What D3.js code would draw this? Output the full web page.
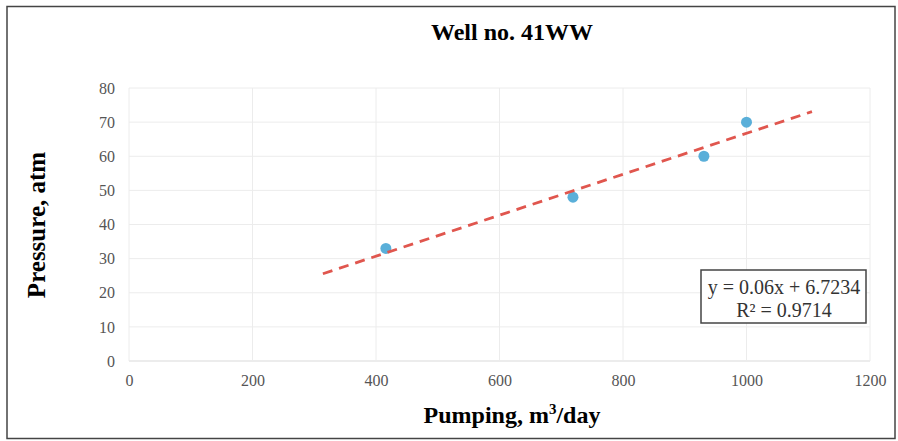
<!DOCTYPE html>
<html><head><meta charset="utf-8">
<script src="https://cdn.jsdelivr.net/npm/d3@7"></script>
<style>body{margin:0;background:#fff}svg{display:block}</style>
</head><body>
<script>
const pumping = [416, 719, 931, 1000];
const pressure = [33, 48, 60, 70];
const xTicks = [0, 200, 400, 600, 800, 1000, 1200];
const yTicks = [0, 10, 20, 30, 40, 50, 60, 70, 80];
const slope = 0.06, intercept = 6.7234, r2 = 0.9714;
const trendRange = [314, 1106];

const W = 898, H = 441;
const svg = d3.select("body").append("svg").attr("width", W).attr("height", H);
svg.append("rect").attr("x", 7).attr("y", 6.5).attr("width", 888).attr("height", 432)
  .attr("fill", "#fff").attr("stroke", "#444").attr("stroke-width", 1.5);

const x = d3.scaleLinear().domain([0, 1200]).range([129, 870]);
const y = d3.scaleLinear().domain([0, 80]).range([361, 88]);
const serif = "'Liberation Serif','Times New Roman',serif";

const g = svg.append("g");
g.selectAll(".hg").data(yTicks).join("line")
  .attr("x1", x(0)).attr("x2", x(1200)).attr("y1", d => y(d)).attr("y2", d => y(d))
  .attr("stroke", d => d === 0 ? "#d9d9d9" : "#ececec").attr("stroke-width", 1);
g.selectAll(".vg").data(xTicks).join("line")
  .attr("y1", y(0)).attr("y2", y(80)).attr("x1", d => x(d)).attr("x2", d => x(d))
  .attr("stroke", "#ececec").attr("stroke-width", 1);

const xa = svg.append("g").attr("transform", `translate(0,${y(0)})`)
  .call(d3.axisBottom(x).tickValues(xTicks).tickFormat(d3.format("d")).tickSize(0).tickPadding(14));
const ya = svg.append("g").attr("transform", `translate(${x(0)},0)`)
  .call(d3.axisLeft(y).tickValues(yTicks).tickFormat(d3.format("d")).tickSize(0).tickPadding(14));
[xa, ya].forEach(a => {
  a.attr("font-family", serif).attr("font-size", 16);
  a.select(".domain").remove();
  a.selectAll("text").attr("fill", "#555");
});

svg.append("g").selectAll("circle").data(pumping).join("circle")
  .attr("cx", d => x(d)).attr("cy", (d, i) => y(pressure[i])).attr("r", 5.5)
  .attr("fill", "#5aafd9");

svg.append("line")
  .attr("x1", x(trendRange[0])).attr("y1", y(slope * trendRange[0] + intercept))
  .attr("x2", x(trendRange[1])).attr("y2", y(slope * trendRange[1] + intercept))
  .attr("stroke", "#e0564e").attr("stroke-width", 2.8).attr("stroke-dasharray", "10,7");

svg.append("text").attr("x", 512).attr("y", 40).attr("text-anchor", "middle")
  .attr("font-family", serif).attr("font-weight", "bold").attr("font-size", 24)
  .text("Well no. 41WW");

svg.append("text").attr("transform", "translate(45,225) rotate(-90)").attr("text-anchor", "middle")
  .attr("font-family", serif).attr("font-weight", "bold").attr("font-size", 25)
  .text("Pressure, atm");

const xl = svg.append("text").attr("x", 512).attr("y", 423).attr("text-anchor", "middle")
  .attr("font-family", serif).attr("font-weight", "bold").attr("font-size", 24);
xl.append("tspan").text("Pumping, m");
xl.append("tspan").attr("dy", -9).attr("font-size", 15).text("3");
xl.append("tspan").attr("dy", 9).text("/day");

svg.append("rect").attr("x", 701).attr("y", 270).attr("width", 165).attr("height", 53)
  .attr("fill", "#fff").attr("stroke", "#444").attr("stroke-width", 1.5);
svg.append("text").attr("x", 784).attr("y", 294).attr("text-anchor", "middle")
  .attr("font-family", serif).attr("font-size", 20).attr("fill", "#333")
  .text(`y = ${slope}x + ${intercept}`);
svg.append("text").attr("x", 784).attr("y", 317).attr("text-anchor", "middle")
  .attr("font-family", serif).attr("font-size", 20).attr("fill", "#333")
  .text(`R² = ${r2}`);
</script>
</body></html>
